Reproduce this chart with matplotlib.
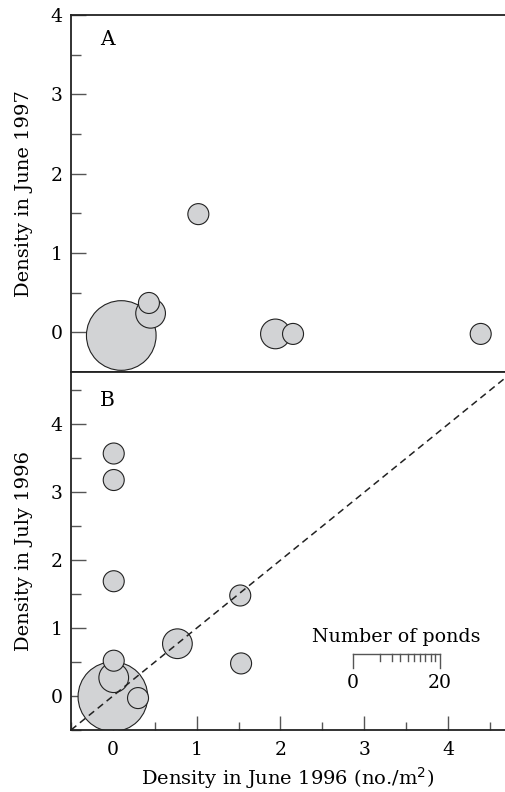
import matplotlib
matplotlib.use('Agg')

import matplotlib.pyplot as plt
from matplotlib.ticker import MultipleLocator
import numpy as np

# Panel A: June 1996 vs June 1997
a_x = [0.10, 0.45, 0.43, 1.02, 1.94, 2.15, 4.39]
a_y = [-0.04, 0.24, 0.37, 1.49, -0.02, -0.02, -0.02]
a_n = [11, 2, 1, 1, 2, 1, 1]

# Panel B: June 1996 vs July 1996
b_x = [0.00, 0.01, 0.01, 0.01, 1.52, 0.77, 1.53, 0.01, 0.01, 0.30]
b_y = [-0.01, 3.57, 3.18, 1.69, 1.48, 0.77, 0.48, 0.27, 0.52, -0.03]
b_n = [11, 1, 1, 1, 1, 2, 1, 2, 1, 1]

legend_ticks = [0, 2, 4, 6, 8, 10, 12, 14, 16, 18, 20]
legend_max = 20

DPI = 100
FONT = 'DejaVu Serif'
BAR_PX = 87          # length of the "Number of ponds" bar in pixels
ONE_POND_PX = 21.0   # circle diameter for a single pond
FACE = '#d2d3d5'
XLIM = (-0.5, 4.68)
LABEL_SIZE = 14
TICK_SIZE = 13.5

plt.rcParams['font.family'] = FONT

fig = plt.figure(figsize=(5.05, 7.92), dpi=DPI)
ax_a = fig.add_axes([71 / 505, 1 - 372 / 792, 434 / 505, 357 / 792])
ax_b = fig.add_axes([71 / 505, 1 - 730 / 792, 434 / 505, 358 / 792])


def sizes(counts):
    # marker area in pt^2 (area proportional to number of ponds)
    d_pt = ONE_POND_PX * np.sqrt(np.array(counts)) * 72 / DPI
    return d_pt ** 2


def style_axis(ax, ylim, xticks):
    ax.set_xlim(*XLIM)
    ax.set_ylim(*ylim)
    ax.spines['right'].set_visible(False)
    for s in ['left', 'top', 'bottom']:
        ax.spines[s].set_linewidth(1.3)
        ax.spines[s].set_color('#222222')
    ax.yaxis.set_major_locator(MultipleLocator(1))
    ax.yaxis.set_minor_locator(MultipleLocator(0.5))
    ax.tick_params(axis='y', which='major', direction='in', length=10.8,
                   width=1.0, color='#555555', labelsize=TICK_SIZE, pad=6)
    ax.tick_params(axis='y', which='minor', direction='in', length=7.2,
                   width=1.0, color='#555555')
    if xticks:
        ax.xaxis.set_major_locator(MultipleLocator(1))
        ax.xaxis.set_minor_locator(MultipleLocator(0.5))
        ax.tick_params(axis='x', which='major', direction='in', length=9.8,
                       width=1.0, color='#555555', labelsize=TICK_SIZE, pad=8)
        ax.tick_params(axis='x', which='minor', direction='in', length=6,
                       width=1.0, color='#555555')
    else:
        ax.tick_params(axis='x', which='both', bottom=False, labelbottom=False)


def draw_points(ax, xs, ys, ns):
    ax.scatter(xs, ys, s=sizes(ns), facecolor=FACE, edgecolor='#222222',
               linewidths=0.8, zorder=2)


# Panel A
style_axis(ax_a, (-0.5, 4.0), xticks=False)
draw_points(ax_a, a_x, a_y, a_n)
ax_a.set_ylabel('Density in June 1997', fontsize=LABEL_SIZE)
ax_a.yaxis.set_label_coords(-0.088, 0.5)
ax_a.text(0.083, 0.93, 'A', transform=ax_a.transAxes, fontsize=14.5,
          ha='center', va='center')

# Panel B
style_axis(ax_b, (-0.5, 4.77), xticks=True)
draw_points(ax_b, b_x, b_y, b_n)
ax_b.plot([-0.5, 5], [-0.5, 5], linestyle=(0, (4.5, 3)), color='#222222',
          linewidth=1.1, zorder=3)
ax_b.set_ylabel('Density in July 1996', fontsize=LABEL_SIZE)
ax_b.yaxis.set_label_coords(-0.088, 0.5)
ax_b.set_xlabel('Density in June 1996 (no./m$^2$)', fontsize=LABEL_SIZE)
ax_b.xaxis.set_label_coords(0.5, -0.097)
ax_b.text(0.083, 0.92, 'B', transform=ax_b.transAxes, fontsize=14.5,
          ha='center', va='center')

# Number-of-ponds scale bar (pixel offsets from its left end)
bx0, by0 = 352.7, 654  # figure pixel coords, y from top
inv = fig.transFigure.inverted()


def fig_pt(px, py):
    return inv.transform((px, 792 - py))


x0, y0 = fig_pt(bx0, by0)
x1, _ = fig_pt(bx0 + BAR_PX, by0)
fig.add_artist(plt.Line2D([x0, x1], [y0, y0], transform=fig.transFigure,
                          color='#555555', linewidth=1.0))
for k in legend_ticks:
    px = bx0 + BAR_PX * np.sqrt(k / legend_max)
    long_tick = k in (0, legend_max)
    tx, ty_top = fig_pt(px, by0)
    _, ty_bot = fig_pt(px, by0 + (14 if long_tick else 7))
    fig.add_artist(plt.Line2D([tx, tx], [ty_top, ty_bot], transform=fig.transFigure,
                              color='#555555', linewidth=1.0))
for k in (0, legend_max):
    tx, ty = fig_pt(bx0 + BAR_PX * np.sqrt(k / legend_max), by0 + 29)
    fig.text(tx, ty, str(k), ha='center', va='center', fontsize=TICK_SIZE)
tx, ty = fig_pt(bx0 + BAR_PX / 2 + 0.5, by0 - 17.5)
fig.text(tx, ty, 'Number of ponds', ha='center', va='center', fontsize=13.7)

fig.savefig('out.png', dpi=DPI)
